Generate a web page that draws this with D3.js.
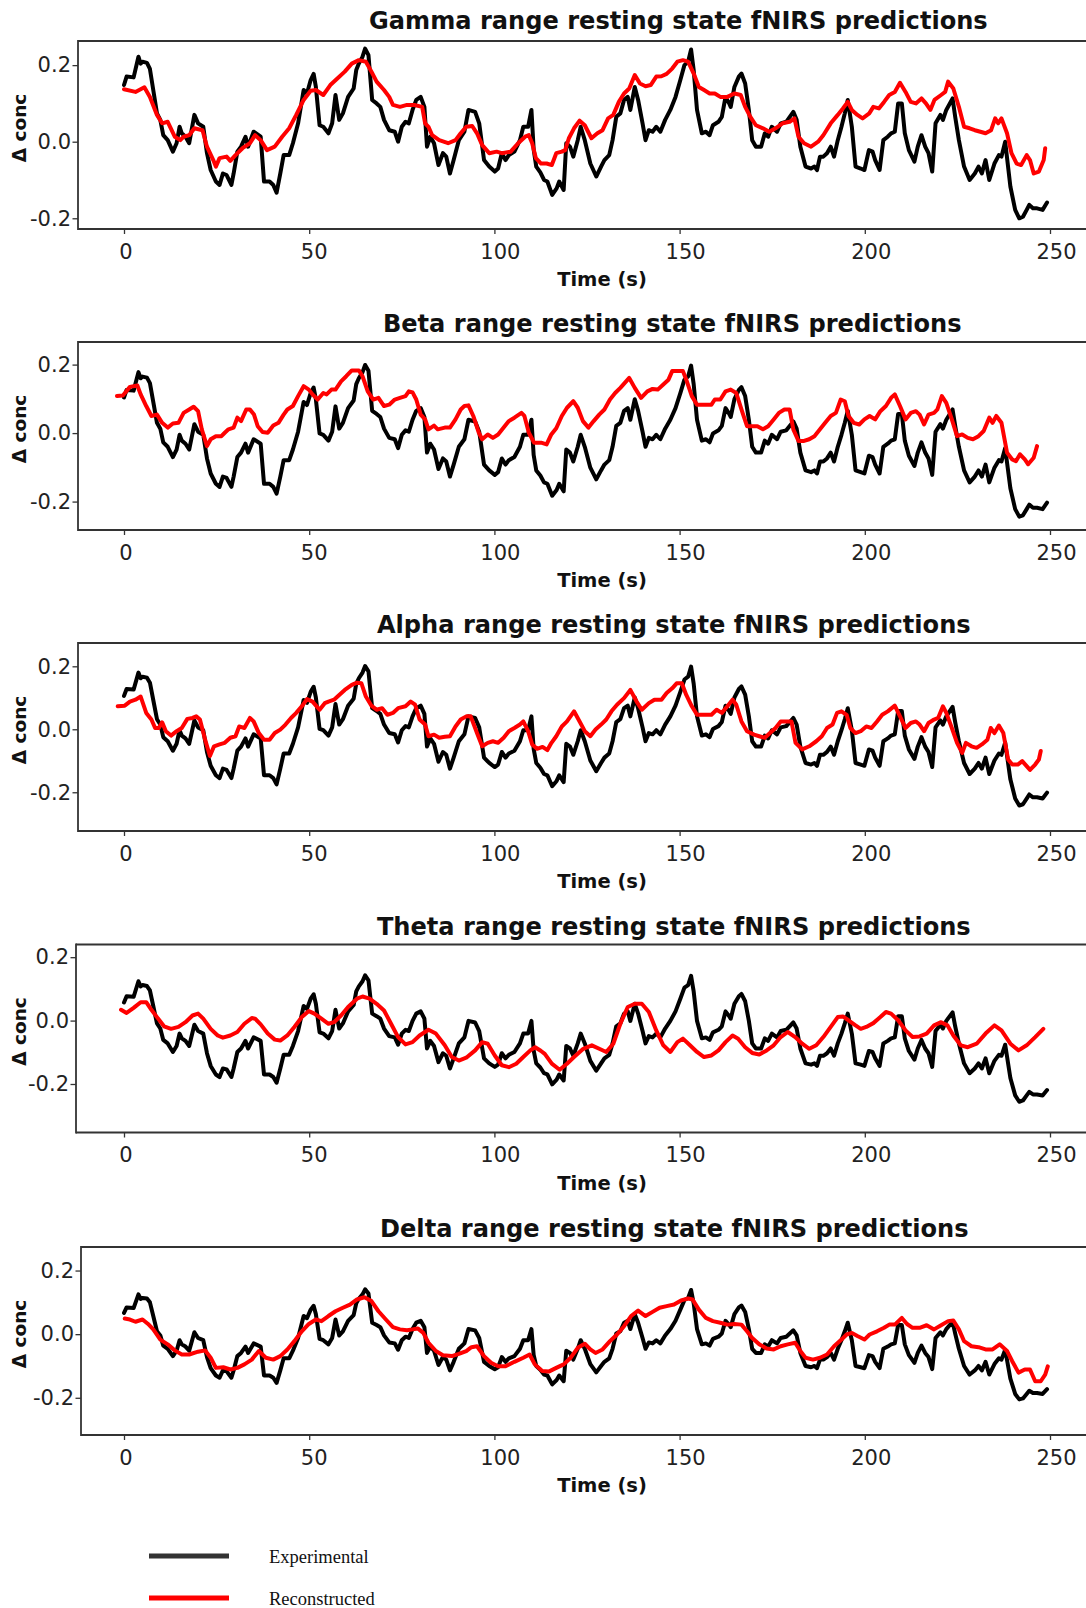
<!DOCTYPE html>
<html><head><meta charset="utf-8">
<script src="https://cdn.jsdelivr.net/npm/d3@7/dist/d3.min.js"></script>
<style>body{margin:0;background:#fff}svg{display:block}</style>
</head><body>
<svg id="c" width="1086" height="1608"></svg>
<script>
// ---------- DATA ----------
const titles = [
  "Gamma range resting state fNIRS predictions",
  "Beta range resting state fNIRS predictions",
  "Alpha range resting state fNIRS predictions",
  "Theta range resting state fNIRS predictions",
  "Delta range resting state fNIRS predictions"
];
const xTicks = [0, 50, 100, 150, 200, 250];
const yTicks = [-0.2, 0.0, 0.2];
const yTickLabels = ["-0.2", "0.0", "0.2"];
const yDomains = [[-0.228, 0.263], [-0.283, 0.266], [-0.323, 0.274], [-0.353, 0.240], [-0.317, 0.274]];
const xLabel = "Time (s)";
const yLabel = "\u0394 conc";
const legendLabels = ["Experimental", "Reconstructed"];

const expTimes = [
0,0.7,2.6,3.9,4.5,5,6.2,7,7.9,8.9,
9.8,10.6,11.8,13.2,14.2,15,15.6,16.6,17.6,19,
20,21.4,22.4,23.4,24.8,25.8,26.7,27.7,29,29.6,
30.6,31.6,32.8,33.5,35,36.9,37.8,39.3,40.3,41.2,
42.2,43.1,44.6,45.6,47,48.5,49.4,50.4,51.2,51.8,
52.8,53.8,55.2,56.2,57.1,58.1,59.1,60.5,62,62.7,
63.4,64.4,65.1,66,67,68.2,69.2,70.2,71.6,73.1,
74,75,76,76.9,77.9,78.9,80.1,81.1,81.8,82.7,
83.7,84.9,86.1,87,88,89,90.4,91.9,93,94.8,
95.9,97.2,98.6,100.1,101,102,103,103.9,105.4,106.9,
107.8,109.1,110,110.6,111.3,112.4,113.4,114.3,115.6,116.8,
117.5,118.7,119.4,120.4,121.3,122.5,123.3,124.4,125.9,127.5,
128.8,129.7,131,131.9,132.9,134,135,136,136.7,137.9,
138.8,140,140.8,141.7,142.7,143.7,144.8,146.1,147.5,148.9,
150.2,151.3,152.3,153.1,153.8,154.7,156,157.1,158.1,159,
160.5,161.4,162.4,163.4,163.8,164.8,166,166.7,167.7,168.7,
169.6,170.6,172,173,173.9,174.9,176.3,177.3,178.8,180.7,
181.6,182.6,184,185.5,186.4,187.1,187.9,188.8,189.8,190.8,
191.7,192.7,193.7,194.6,195.4,196.5,197.5,198.9,199.9,201.1,
202.1,202.8,204,205,206.2,207.1,208.1,209,210,210.8,
211.9,213.4,214.3,215.3,216.3,217.2,218.2,219.1,220.4,221.1,
222,223.7,224.4,225.4,226.8,228.3,229.7,230.7,231.6,232.6,
233.6,235,236.2,236.9,237.9,239.3,240.6,241.7,242.7,243.7,
244.4,245.4,246.5,248,249.2];

const expGamma = [
.148,.170,.168,.222,.204,.209,.206,.190,.135,.074,
.057,.017,.004,-.026,-.004,.039,.022,.013,-.004,.070,
.048,.039,-.030,-.074,-.104,-.113,-.083,-.087,-.113,-.083,
-.026,-.013,.013,-.013,.026,.013,-.104,-.104,-.113,-.133,
-.083,-.035,-.035,-.004,.048,.135,.126,.161,.177,.143,
.043,.039,.022,.048,.122,.057,.074,.117,.139,.187,
.204,.222,.243,.226,.109,.100,.091,.057,.030,.026,
.000,.039,.052,.048,.083,.109,.117,.091,-.013,.013,
-.004,-.061,-.030,-.039,-.083,-.048,.004,.026,.083,.078,
.048,-.048,-.065,-.078,-.070,-.030,-.048,-.035,-.026,.004,
.039,.039,.083,-.020,-.065,-.080,-.100,-.104,-.139,-.122,
-.104,-.126,-.004,-.013,-.039,.004,.039,.004,-.057,-.091,
-.065,-.048,-.035,.004,.065,.074,.109,.117,.083,.143,
.109,.048,.004,.030,.026,.039,.026,.057,.083,.117,
.161,.200,.209,.241,.187,.083,.022,.026,.017,.043,
.052,.065,.117,.100,.091,.143,.170,.178,.152,.083,
.004,-.013,-.013,.022,.013,.039,.026,.048,.052,.078,
.057,-.013,-.065,-.070,-.065,-.074,-.039,-.039,-.030,-.013,
-.039,.004,.039,.074,.109,.039,-.065,-.070,-.074,-.022,
-.026,-.048,-.074,.004,.013,.022,.026,.100,.100,.022,
-.022,-.052,-.013,.017,-.013,-.030,-.078,.048,.070,.057,
.083,.113,.065,.004,-.065,-.100,-.083,-.065,-.083,-.048,
-.100,-.057,-.035,-.039,.000,-.117,-.178,-.200,-.196,-.178,
-.165,-.174,-.174,-.178,-.159];

const expBeta = [
.104,.126,.124,.178,.160,.165,.162,.146,.091,.030,
.013,-.027,-.040,-.070,-.048,-.005,-.022,-.031,-.048,.026,
.004,-.005,-.074,-.118,-.148,-.157,-.127,-.131,-.157,-.127,
-.070,-.057,-.031,-.057,-.018,-.031,-.148,-.148,-.157,-.177,
-.127,-.079,-.079,-.048,.004,.091,.082,.117,.133,.099,
-.001,-.005,-.022,.004,.078,.013,.030,.073,.095,.143,
.160,.178,.199,.182,.065,.056,.047,.013,-.014,-.018,
-.044,-.005,.008,.004,.039,.065,.073,.047,-.057,-.031,
-.048,-.105,-.074,-.083,-.127,-.092,-.040,-.018,.039,.034,
.004,-.092,-.109,-.122,-.114,-.074,-.092,-.079,-.070,-.040,
-.005,-.005,.039,-.064,-.109,-.124,-.144,-.148,-.183,-.166,
-.148,-.170,-.048,-.057,-.083,-.040,-.005,-.040,-.101,-.135,
-.109,-.092,-.079,-.040,.021,.030,.065,.073,.039,.099,
.065,.004,-.040,-.014,-.018,-.005,-.018,.013,.039,.073,
.117,.156,.165,.197,.143,.039,-.022,-.018,-.027,-.001,
.008,.021,.073,.056,.047,.099,.126,.134,.108,.039,
-.040,-.057,-.057,-.022,-.031,-.005,-.018,.004,.008,.034,
.013,-.057,-.109,-.114,-.109,-.118,-.083,-.083,-.074,-.057,
-.083,-.040,-.005,.030,.065,-.005,-.109,-.114,-.118,-.066,
-.070,-.092,-.118,-.040,-.031,-.022,-.018,.056,.056,-.022,
-.066,-.096,-.057,-.027,-.057,-.074,-.122,.004,.026,.013,
.039,.069,.021,-.040,-.109,-.144,-.127,-.109,-.127,-.092,
-.144,-.101,-.079,-.083,-.044,-.161,-.222,-.244,-.240,-.222,
-.209,-.218,-.218,-.222,-.203];

const expAlpha = [
.106,.128,.126,.180,.162,.167,.164,.148,.093,.032,
.015,-.025,-.038,-.068,-.046,-.003,-.020,-.029,-.046,.028,
.006,-.003,-.072,-.116,-.146,-.155,-.125,-.129,-.155,-.125,
-.068,-.055,-.029,-.055,-.016,-.029,-.146,-.146,-.155,-.175,
-.125,-.077,-.077,-.046,.006,.093,.084,.119,.135,.101,
.001,-.003,-.020,.006,.080,.015,.032,.075,.097,.145,
.162,.180,.201,.184,.067,.058,.049,.015,-.012,-.016,
-.042,-.003,.010,.006,.041,.067,.075,.049,-.055,-.029,
-.046,-.103,-.072,-.081,-.125,-.090,-.038,-.016,.041,.036,
.006,-.090,-.107,-.120,-.112,-.072,-.090,-.077,-.068,-.038,
-.003,-.003,.041,-.062,-.107,-.122,-.142,-.146,-.181,-.164,
-.146,-.168,-.046,-.055,-.081,-.038,-.003,-.038,-.099,-.133,
-.107,-.090,-.077,-.038,.023,.032,.067,.075,.041,.101,
.067,.006,-.038,-.012,-.016,-.003,-.016,.015,.041,.075,
.119,.158,.167,.199,.145,.041,-.020,-.016,-.025,.001,
.010,.023,.075,.058,.049,.101,.128,.136,.110,.041,
-.038,-.055,-.055,-.020,-.029,-.003,-.016,.006,.010,.036,
.015,-.055,-.107,-.112,-.107,-.116,-.081,-.081,-.072,-.055,
-.081,-.038,-.003,.032,.067,-.003,-.107,-.112,-.116,-.064,
-.068,-.090,-.116,-.038,-.029,-.020,-.016,.058,.058,-.020,
-.064,-.094,-.055,-.025,-.055,-.072,-.120,.006,.028,.015,
.041,.071,.023,-.038,-.107,-.142,-.125,-.107,-.125,-.090,
-.142,-.099,-.077,-.081,-.042,-.159,-.220,-.242,-.238,-.220,
-.207,-.216,-.216,-.220,-.201];

const expTheta = [
.057,.077,.075,.124,.108,.112,.109,.095,.046,-.009,
-.025,-.061,-.072,-.099,-.080,-.041,-.056,-.064,-.080,-.013,
-.033,-.041,-.103,-.143,-.170,-.178,-.151,-.154,-.178,-.151,
-.099,-.088,-.064,-.088,-.053,-.064,-.170,-.170,-.178,-.196,
-.151,-.108,-.108,-.080,-.033,.046,.037,.069,.083,.053,
-.037,-.041,-.056,-.033,.034,-.025,-.009,.029,.049,.092,
.108,.124,.143,.127,.022,.014,.006,-.025,-.049,-.053,
-.076,-.041,-.029,-.033,-.001,.022,.029,.006,-.088,-.064,
-.080,-.131,-.103,-.111,-.151,-.119,-.072,-.053,-.001,-.006,
-.033,-.119,-.135,-.146,-.139,-.103,-.119,-.108,-.099,-.072,
-.041,-.041,-.001,-.094,-.135,-.148,-.166,-.170,-.201,-.186,
-.170,-.189,-.080,-.088,-.111,-.072,-.041,-.072,-.127,-.158,
-.135,-.119,-.108,-.072,-.018,-.009,.022,.029,-.001,.053,
.022,-.033,-.072,-.049,-.053,-.041,-.053,-.025,-.001,.029,
.069,.104,.112,.141,.092,-.001,-.056,-.053,-.061,-.037,
-.029,-.018,.029,.014,.006,.053,.077,.084,.061,-.001,
-.072,-.088,-.088,-.056,-.064,-.041,-.053,-.033,-.029,-.006,
-.025,-.088,-.135,-.139,-.135,-.143,-.111,-.111,-.103,-.088,
-.111,-.072,-.041,-.009,.022,-.041,-.135,-.139,-.143,-.096,
-.099,-.119,-.143,-.072,-.064,-.056,-.053,.014,.014,-.056,
-.096,-.123,-.088,-.061,-.088,-.103,-.146,-.033,-.013,-.025,
-.001,.026,-.018,-.072,-.135,-.166,-.151,-.135,-.151,-.119,
-.166,-.127,-.108,-.111,-.076,-.181,-.236,-.256,-.252,-.236,
-.225,-.233,-.233,-.236,-.219];

const expDelta = [
.067,.084,.082,.125,.111,.114,.112,.100,.057,.009,
-.004,-.036,-.046,-.069,-.052,-.019,-.032,-.039,-.052,.006,
-.012,-.019,-.072,-.107,-.130,-.137,-.114,-.117,-.137,-.114,
-.069,-.059,-.039,-.059,-.029,-.039,-.130,-.130,-.137,-.153,
-.114,-.076,-.076,-.052,-.012,.057,.050,.077,.089,.063,
-.015,-.019,-.032,-.012,.046,-.004,.009,.042,.060,.097,
.111,.125,.141,.128,.036,.029,.022,-.004,-.026,-.029,
-.049,-.019,-.008,-.012,.016,.036,.042,.022,-.059,-.039,
-.052,-.097,-.072,-.080,-.114,-.087,-.046,-.029,.016,.012,
-.012,-.087,-.100,-.110,-.104,-.072,-.087,-.076,-.069,-.046,
-.019,-.019,.016,-.065,-.100,-.112,-.127,-.130,-.158,-.144,
-.130,-.148,-.052,-.059,-.080,-.046,-.019,-.046,-.094,-.120,
-.100,-.087,-.076,-.046,.002,.009,.036,.042,.016,.063,
.036,-.012,-.046,-.026,-.029,-.019,-.029,-.004,.016,.042,
.077,.107,.114,.139,.097,.016,-.032,-.029,-.036,-.015,
-.008,.002,.042,.029,.022,.063,.084,.090,.070,.016,
-.046,-.059,-.059,-.032,-.039,-.019,-.029,-.012,-.008,.012,
-.004,-.059,-.100,-.104,-.100,-.107,-.080,-.080,-.072,-.059,
-.080,-.046,-.019,.009,.036,-.019,-.100,-.104,-.107,-.066,
-.069,-.087,-.107,-.046,-.039,-.032,-.029,.029,.029,-.032,
-.066,-.090,-.059,-.036,-.059,-.072,-.110,-.012,.006,-.004,
.016,.039,.002,-.046,-.100,-.127,-.114,-.100,-.114,-.087,
-.127,-.094,-.076,-.080,-.049,-.140,-.188,-.205,-.202,-.188,
-.178,-.185,-.185,-.188,-.173];

const recGamma = [[0,.137],[3.1,.130],[5.5,.142],[7,.117],[8.9,.070],[10.3,.048],[11.8,.052],[13.7,.013],[15.2,.004],[16.1,.013],[17.6,.017],[19,.035],[21.2,.030],[22.4,-.013],[24.1,-.048],[24.8,-.065],[25.8,-.043],[27.7,-.039],[28.7,-.050],[30.1,-.035],[32,-.017],[34,-.004],[35.4,.017],[36.9,.004],[38.6,-.022],[40.7,-.013],[42.7,.013],[44.6,.035],[46.5,.070],[48.5,.109],[50.4,.133],[51.8,.135],[53.8,.122],[55.7,.148],[57.6,.165],[59.6,.183],[61.5,.204],[63.4,.213],[65.3,.209],[66.8,.183],[68.2,.157],[70.2,.135],[71.6,.117],[72.6,.096],[74.5,.091],[76.4,.096],[78.4,.096],[80.5,.091],[81.3,.048],[82.2,.039],[83.2,.017],[85.1,.004],[87.5,-.004],[89.5,.004],[90.9,.022],[92.4,.039],[94,.041],[95.3,.022],[96.7,-.009],[98.6,-.030],[100.6,-.026],[102,-.030],[104.4,-.026],[106.4,-.004],[108.3,.013],[109.3,.017],[110.2,-.004],[111.2,-.043],[112.6,-.057],[114.1,-.057],[115.5,-.061],[116.7,-.030],[118.2,-.026],[119.1,-.022],[120.1,.009],[121.5,.035],[123,.055],[124.4,.043],[126.2,.009],[127.8,.022],[129.2,.030],[130.7,.061],[132.1,.070],[133.6,.104],[135,.126],[136.4,.139],[137.9,.174],[139.3,.152],[140.8,.145],[142.2,.148],[143.7,.170],[145.1,.171],[146.5,.177],[148,.191],[149.4,.209],[150.9,.213],[152.3,.209],[153.8,.178],[155.2,.143],[156.6,.135],[158.1,.126],[159.5,.126],[161,.117],[162.9,.117],[164.8,.126],[166.5,.122],[167.7,.091],[169.1,.065],[170.6,.043],[172.5,.035],[174.2,.026],[175.9,.035],[177.8,.048],[179.7,.052],[181,.061],[182.1,.013],[183.6,-.004],[185.5,-.013],[187.4,.000],[188.8,.017],[190.8,.048],[192.7,.070],[194.1,.087],[195.4,.104],[196.5,.083],[198,.070],[199.4,.061],[201.2,.074],[202.3,.091],[203.8,.087],[205.2,.104],[206.6,.122],[208.1,.130],[209.5,.154],[211,.130],[212.4,.104],[213.8,.100],[215.3,.113],[216.5,.100],[217.7,.083],[218.8,.109],[220.6,.122],[221.7,.130],[222.5,.157],[223.9,.139],[225.4,.091],[226.8,.039],[228.3,.035],[229.7,.030],[231.2,.026],[232.6,.022],[234.1,.030],[235.2,.061],[236,.048],[236.9,.061],[238.4,.022],[239.6,-.030],[241,-.057],[242.2,-.061],[243.7,-.035],[244.6,-.048],[245.6,-.083],[247,-.078],[248.3,-.048],[248.7,-.017]];

const recBeta = [[-1.9,.108],[-0.3,.110],[1.6,.135],[3.6,.139],[4.5,.113],[6,.079],[7.4,.050],[8.9,.054],[10.3,.030],[11.8,.016],[13.2,.028],[14.7,.030],[16.1,.059],[17.6,.069],[18.8,.077],[20,.064],[21,.011],[22.4,-.038],[23.4,-.018],[24.8,-.009],[26.3,-.009],[27.2,.001],[28.2,.011],[29.6,.016],[30.6,.045],[31.6,.035],[33,.069],[34,.069],[35.1,.054],[36.1,.020],[37.4,.003],[38.8,.001],[40.3,.022],[41.7,.030],[43.1,.054],[44.1,.069],[45.6,.079],[47,.108],[48.5,.137],[49.9,.127],[50.9,.113],[52.3,.098],[53.8,.117],[54.7,.113],[56,.127],[57.1,.127],[58.6,.151],[60,.166],[61.5,.183],[63.4,.183],[64.4,.166],[65.8,.122],[67.3,.098],[68.7,.103],[70.2,.079],[71.6,.083],[73.1,.098],[74.5,.103],[76,.108],[76.9,.122],[77.9,.119],[78.9,.098],[80.1,.054],[81.3,.040],[82.2,.011],[83.7,.022],[84.7,.011],[86.6,.016],[88,.016],[89.5,.040],[90.9,.069],[91.9,.079],[93,.081],[94.3,.050],[95.8,.001],[96.7,-.018],[98.2,-.004],[99.6,-.014],[101,-.004],[102.5,.016],[103.9,.035],[105.4,.045],[107.3,.059],[108.1,.050],[109.3,.001],[110.7,-.028],[112.6,-.028],[114.1,-.033],[115.3,-.005],[116.7,.014],[118.2,.050],[119.6,.074],[121.3,.093],[122.5,.074],[123.9,.035],[125.4,.016],[126.8,.035],[128.3,.054],[129.7,.069],[131.2,.098],[132.6,.117],[134,.132],[136.4,.161],[137.9,.132],[139.6,.103],[141.3,.122],[142.7,.129],[144.1,.127],[145.6,.142],[147,.156],[148,.181],[149.4,.181],[150.9,.181],[151.8,.156],[153.3,.108],[154.7,.083],[157.1,.083],[158.6,.083],[159.5,.098],[161,.098],[162.4,.122],[163.8,.127],[165.3,.117],[167,.059],[168.2,.020],[169.6,.020],[171,.020],[172.5,.011],[173.9,.020],[175.4,.040],[176.8,.059],[178.3,.069],[179.7,.069],[180.7,.011],[182.1,-.023],[183.6,-.023],[185,-.018],[186.4,-.009],[187.9,.011],[189.3,.030],[190.8,.050],[192.2,.059],[193.5,.098],[194.6,.093],[195.6,.050],[197,.030],[198.5,.025],[199.9,.040],[201.3,.050],[202.8,.040],[204.2,.064],[205.7,.079],[207.1,.103],[208.1,.113],[209.5,.079],[211,.040],[212.4,.059],[213.8,.064],[214.8,.054],[216,.025],[217.2,.054],[218.7,.059],[219.6,.069],[220.8,.108],[222,.088],[223.5,.040],[224.9,-.009],[226.3,-.004],[227.8,-.014],[229.2,-.018],[230.7,-.009],[232.1,.006],[233.6,.045],[234.5,.030],[235.5,.050],[236.9,.030],[238.4,-.057],[239.8,-.077],[240.8,-.082],[241.9,-.062],[243.2,-.077],[244.1,-.091],[245.6,-.072],[246.5,-.038]];

const recAlpha = [[-1.7,.073],[0.2,.075],[1.6,.088],[3.1,.094],[4.5,.104],[6,.052],[7.4,.031],[8.4,.004],[9.4,.004],[10.3,.022],[11.3,-.006],[12.7,-.020],[14.2,-.006],[15.6,.004],[17.1,.033],[18.5,.036],[19.5,.041],[20.5,.031],[21.9,-.033],[23.2,-.085],[24.3,-.054],[25.8,-.048],[27.2,-.043],[28.7,-.027],[30.1,-.022],[31.1,.009],[32.5,.004],[34,.036],[35,.025],[36.4,-.012],[37.8,-.033],[39.3,-.033],[40.7,-.012],[42.2,-.001],[43.6,.015],[45.1,.036],[46.5,.052],[48,.073],[49.4,.096],[50.9,.088],[52.8,.062],[54.2,.083],[55.2,.088],[56.7,.094],[58.1,.109],[59.6,.125],[61.5,.141],[62.9,.148],[64.1,.146],[65.3,.104],[66.8,.075],[68.2,.062],[69.7,.067],[71.1,.046],[72.6,.052],[74,.067],[76,.073],[77.4,.088],[78.6,.078],[79.8,.031],[81.3,.015],[82.2,-.022],[83.7,-.017],[85.1,-.027],[86.6,-.024],[88,-.022],[89.5,.009],[90.9,.031],[92.4,.041],[93.6,.041],[95.3,-.012],[96.7,-.054],[98.2,-.043],[99.6,-.038],[101,-.043],[102.5,-.027],[103.9,-.006],[105.4,.004],[106.9,.015],[107.8,.025],[109.1,-.006],[110.2,-.048],[111.5,-.062],[113,-.056],[114.3,-.066],[115.4,-.043],[116.7,-.022],[118.2,.009],[119.6,.025],[121.5,.057],[123,.025],[124.4,-.006],[125.9,-.022],[127.3,-.001],[128.8,.015],[130.2,.031],[131.6,.057],[133.1,.078],[135,.099],[136.7,.125],[138.4,.088],[139.8,.062],[141.7,.083],[143.2,.094],[145.1,.094],[146.5,.115],[148,.130],[149.2,.146],[150.6,.146],[151.8,.109],[153.3,.073],[154.7,.046],[156.6,.046],[158.6,.046],[160,.062],[161.4,.052],[162.9,.073],[164.3,.094],[165.3,.078],[166.7,.025],[168.2,-.006],[170.1,-.017],[171.5,-.022],[173,-.027],[174.4,-.012],[175.9,.004],[177.3,.025],[178.8,.025],[180.2,.025],[181.3,-.043],[183.1,-.064],[185,-.054],[186.9,-.038],[188.4,-.022],[189.8,.004],[191.3,.015],[192.5,.052],[193.7,.057],[195.1,.046],[196.1,.004],[197.5,-.012],[198.9,-.006],[200.4,.009],[201.8,.004],[203.3,.025],[204.7,.046],[206.2,.057],[208.1,.075],[209.5,.041],[211,.004],[212.4,.020],[213.8,.025],[214.8,.015],[216,-.006],[217.2,.020],[218.7,.031],[219.8,.036],[221.1,.073],[222,.052],[223.5,.004],[224.9,-.043],[226.3,-.075],[227.3,-.043],[228.8,-.054],[230.2,-.059],[231.6,-.048],[233.1,-.033],[234,.004],[235,-.012],[236.2,.012],[237.4,-.012],[238.7,-.096],[239.8,-.112],[241.3,-.112],[242.5,-.101],[243.7,-.117],[244.6,-.129],[246,-.112],[247,-.096],[247.5,-.069]];

const recTheta = [[-0.8,.034],[0.7,.024],[2.6,.040],[4.5,.058],[6,.058],[7.4,.034],[8.9,.011],[10.8,-.018],[12.7,-.026],[14.7,-.020],[16.6,-.005],[18.5,.016],[20,.022],[21.4,.006],[23.4,-.026],[25.3,-.047],[26.7,-.054],[28.7,-.047],[30.6,-.036],[32.5,-.010],[34.5,.008],[35.4,.006],[36.9,-.012],[38.8,-.041],[40.7,-.060],[42.2,-.063],[44.1,-.047],[46,-.020],[48,.011],[49.9,.030],[51.4,.022],[53.3,.006],[55.2,-.010],[56.7,-.005],[58.6,.016],[60.5,.043],[62.9,.069],[64.4,.076],[66.3,.069],[68.2,.053],[70.2,.032],[72.1,-.010],[74,-.052],[76,-.075],[77.9,-.068],[79.8,-.047],[82.2,-.029],[84.2,-.041],[86.6,-.078],[88.5,-.115],[90.4,-.126],[92.4,-.117],[94.8,-.094],[96.7,-.068],[98.2,-.073],[100.1,-.110],[102,-.141],[103.9,-.147],[105.9,-.136],[107.8,-.115],[109.7,-.094],[111,-.084],[112.5,-.095],[113.6,-.105],[115.5,-.136],[117.6,-.155],[119.6,-.136],[121.5,-.115],[124,-.089],[126.3,-.078],[128.3,-.089],[130.2,-.099],[132.1,-.073],[134,-.010],[136,.043],[137.9,.053],[139.8,.053],[141.7,.027],[143.7,-.031],[145.6,-.078],[147.5,-.099],[149.4,-.068],[150.9,-.057],[152.8,-.078],[154.7,-.099],[156.6,-.115],[158.6,-.110],[160.5,-.094],[162.4,-.068],[164.3,-.047],[165.8,-.057],[167.7,-.084],[169.6,-.102],[171.5,-.107],[173.5,-.094],[175.4,-.078],[177.3,-.052],[179.2,-.036],[181.2,-.052],[183.1,-.073],[185,-.089],[186.9,-.078],[188.8,-.052],[190.8,-.020],[192.7,.011],[194.1,.013],[195.6,.001],[197.5,-.015],[198.9,-.026],[200.4,-.020],[202.3,-.008],[204.2,.011],[205.7,.027],[207.1,.022],[209,.001],[211,-.031],[212.9,-.052],[214.8,-.050],[216.7,-.041],[218.7,-.015],[220.6,-.005],[222.3,-.015],[223.9,-.047],[225.9,-.078],[227.8,-.084],[230.2,-.073],[232.6,-.041],[235,-.015],[236.9,-.031],[239.3,-.073],[241.5,-.094],[243.7,-.078],[246,-.052],[248.2,-.026]];

const recDelta = [[0.2,.049],[1.6,.046],[3.1,.039],[5,.046],[6.5,.032],[7.9,.015],[9.8,-.017],[11.8,-.032],[13.7,-.051],[15.6,-.064],[17.6,-.064],[20,-.055],[21.9,-.051],[23.4,-.074],[24.8,-.106],[26.8,-.104],[28.7,-.111],[30.6,-.106],[32.5,-.095],[34.5,-.080],[36.4,-.053],[38.3,-.074],[40.3,-.080],[42.2,-.069],[44.1,-.048],[46,-.022],[48,.009],[49.9,.032],[51.8,.046],[53.3,.041],[55.2,.057],[57.1,.072],[59.1,.083],[61,.093],[62.9,.109],[64.9,.116],[66.8,.104],[68.7,.072],[70.7,.046],[72.6,.022],[74.5,.015],[76.4,.012],[77.9,.015],[79.3,.018],[80.8,.004],[82.2,-.027],[84.2,-.053],[86.1,-.066],[88.5,-.069],[90.4,-.062],[92.4,-.053],[93.8,-.041],[95.3,-.038],[97.2,-.069],[99.1,-.090],[101,-.101],[103,-.101],[105.4,-.087],[107.8,-.074],[109.5,-.064],[110.9,-.095],[112.9,-.116],[114.8,-.117],[116.7,-.106],[118.7,-.095],[120.6,-.074],[122.5,-.043],[124.4,-.030],[125.9,-.048],[127.3,-.059],[129.2,-.048],[131.2,-.022],[133.1,-.001],[135,.025],[136.9,.057],[138.8,.074],[140.8,.057],[142.7,.070],[144.6,.083],[146.5,.088],[148.5,.093],[150.4,.106],[152.3,.112],[153.5,.109],[155.2,.077],[157.1,.051],[159,.041],[161,.036],[162.9,.030],[164.8,.032],[166.7,.030],[168.2,.009],[169.6,-.012],[171.5,-.032],[173.5,-.045],[175.4,-.048],[177.3,-.038],[179.2,-.032],[181.2,-.027],[182.6,-.053],[184,-.074],[186,-.080],[187.9,-.074],[189.8,-.064],[191.7,-.038],[193.7,-.017],[195.1,-.001],[196.5,.004],[198,-.006],[199.9,-.017],[201.3,-.001],[203.3,.009],[205.2,.020],[206.6,.030],[208.1,.030],[210,.051],[211.4,.032],[212.9,.020],[214.8,.020],[216.7,.028],[218.7,.015],[220.6,.028],[222.5,.041],[223.9,.043],[225.4,.015],[226.8,-.022],[228.8,-.038],[230.7,-.041],[232.6,-.048],[234.5,-.048],[236.4,-.032],[238.4,-.053],[239.8,-.085],[241.5,-.121],[243.2,-.111],[244.6,-.111],[246,-.148],[247.5,-.148],[248.7,-.127],[249.4,-.101]];

// ---------- LAYOUT ----------
const W = 1086;
const panelTops = [41, 342, 643, 944.5, 1247];
const panelH = 188;
const spineX = [78, 78, 78, 76, 81];
const titleX = [678.4, 672.2, 673.8, 673.8, 674.3];
const titleDy = [-12, -10, -10, -10, -10];
const xLabelDx = [1.5, 4.5, 5.5, 5.5, 6, 6];
const FONT = "DejaVu Sans";
const axisColor = "#333";

const svg = d3.select("#c");
const x = d3.scaleLinear().domain([0, 250]).range([124, 1050]);

const expSeries = [expGamma, expBeta, expAlpha, expTheta, expDelta];
const recSeries = [recGamma, recBeta, recAlpha, recTheta, recDelta];

titles.forEach((title, i) => {
  const top = panelTops[i], bottom = top + panelH, left = spineX[i];
  const y = d3.scaleLinear().domain(yDomains[i]).range([bottom, top]);
  const g = svg.append("g");

  // spines
  g.append("line").attr("x1", left).attr("x2", W).attr("y1", top).attr("y2", top)
    .attr("stroke", axisColor).attr("stroke-width", 1.8);
  g.append("line").attr("x1", left).attr("x2", W).attr("y1", bottom).attr("y2", bottom)
    .attr("stroke", axisColor).attr("stroke-width", 1.8);
  g.append("line").attr("x1", left).attr("x2", left).attr("y1", top - 0.9).attr("y2", bottom + 0.9)
    .attr("stroke", axisColor).attr("stroke-width", 1.8);

  // x axis
  const xa = g.append("g").attr("transform", `translate(0,${bottom})`)
    .call(d3.axisBottom(x).tickValues(xTicks).tickSize(5).tickPadding(10).tickFormat(d3.format("d")));
  xa.select(".domain").remove();
  xa.selectAll("line").attr("stroke", axisColor).attr("stroke-width", 1.3);
  xa.selectAll("text").attr("font-family", FONT).attr("font-size", 21).attr("fill", "#222")
    .attr("dx", (d, k) => xLabelDx[k]);

  // y axis
  const ya = g.append("g").attr("transform", `translate(${left},0)`)
    .call(d3.axisLeft(y).tickValues(yTicks).tickSize(5.5).tickPadding(1.5)
      .tickFormat((d, k) => yTickLabels[k]));
  ya.select(".domain").remove();
  ya.selectAll("line").attr("stroke", axisColor).attr("stroke-width", 1.3);
  ya.selectAll("text").attr("font-family", FONT).attr("font-size", 21).attr("fill", "#222");

  // title
  g.append("text").attr("x", titleX[i]).attr("y", top + titleDy[i]).attr("text-anchor", "middle")
    .attr("font-family", FONT).attr("font-weight", "bold").attr("font-size", 24.1)
    .attr("fill", "#111").text(title);

  // x label
  g.append("text").attr("x", 602).attr("y", bottom + 57).attr("text-anchor", "middle")
    .attr("font-family", FONT).attr("font-weight", "bold").attr("font-size", 19.5)
    .attr("fill", "#111").text(xLabel);

  // y label
  g.append("text").attr("transform", `translate(26,${(top + bottom) / 2 - 7}) rotate(-90)`)
    .attr("text-anchor", "middle").attr("font-family", FONT).attr("font-weight", "bold")
    .attr("font-size", 18.5).attr("fill", "#111").text(yLabel);

  // lines
  const line = d3.line().x(d => x(d[0])).y(d => y(d[1]));
  const exp = expTimes.map((t, k) => [t, expSeries[i][k]]);
  g.append("path").datum(exp).attr("d", line).attr("fill", "none")
    .attr("stroke", "#000").attr("stroke-width", 4).attr("stroke-linejoin", "round").attr("stroke-linecap", "round");
  g.append("path").datum(recSeries[i]).attr("d", line).attr("fill", "none")
    .attr("stroke", "#ff0000").attr("stroke-width", 4).attr("stroke-linejoin", "round").attr("stroke-linecap", "round");
});

// legend
const legendColors = ["#333", "#ff0000"];
const legendY = [1556, 1598];
legendLabels.forEach((lab, k) => {
  svg.append("line").attr("x1", 149).attr("x2", 229).attr("y1", legendY[k]).attr("y2", legendY[k])
    .attr("stroke", legendColors[k]).attr("stroke-width", 5);
  svg.append("text").attr("x", 269).attr("y", legendY[k] + 6.5)
    .attr("font-family", "Liberation Serif, Times New Roman, serif").attr("font-size", 18.5)
    .attr("fill", "#111").text(lab);
});
</script>
</body></html>
